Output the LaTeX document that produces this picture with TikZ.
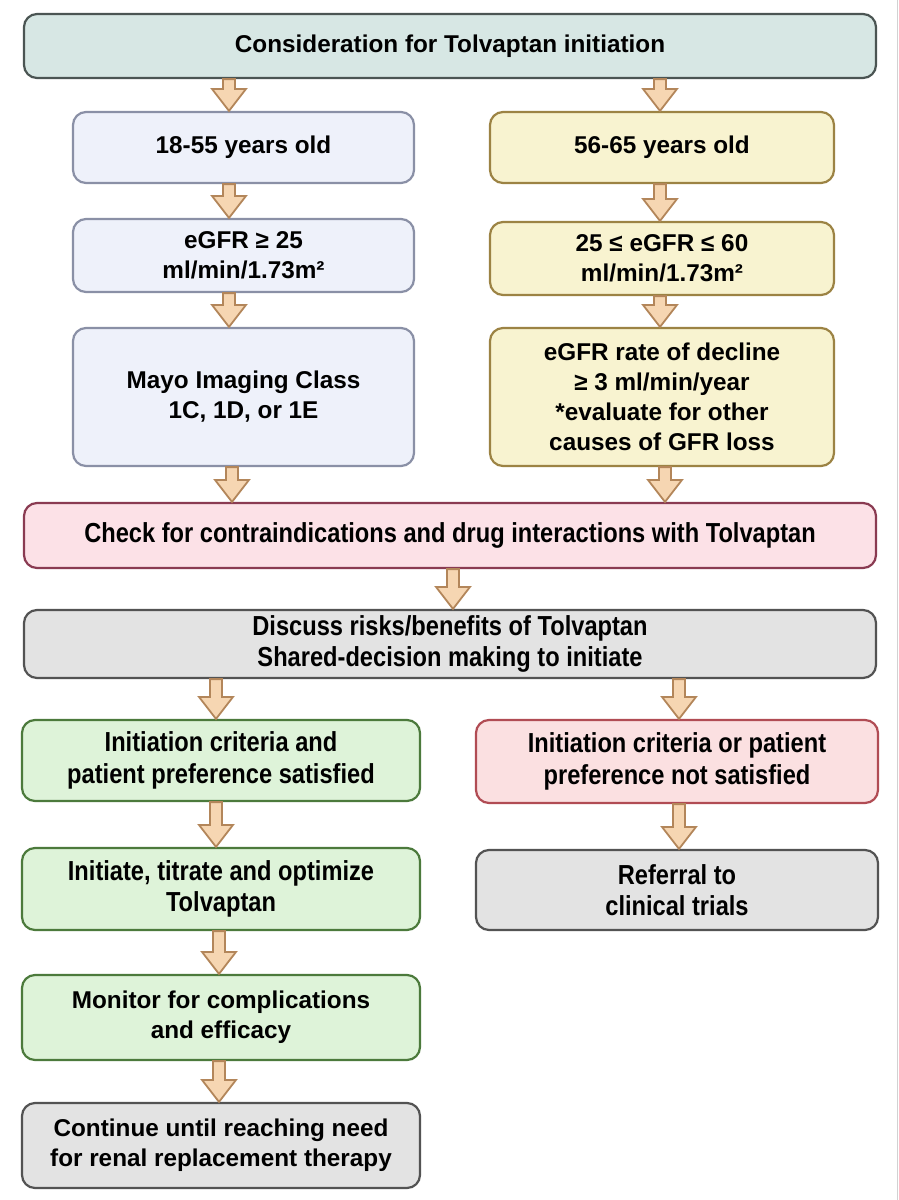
\documentclass[tikz,border=0pt]{standalone}
\usepackage{fontspec}
\setmainfont{Liberation Sans}
\newfontfamily\narrowsans[FakeStretch=0.86]{Liberation Sans}
\usetikzlibrary{calc}
\definecolor{topfill}{HTML}{D7E7E4}
\definecolor{topline}{HTML}{4B5553}
\definecolor{bluefill}{HTML}{EEF1FA}
\definecolor{blueline}{HTML}{8A90A6}
\definecolor{yelfill}{HTML}{F8F3D0}
\definecolor{yelline}{HTML}{9C8344}
\definecolor{pinkfill}{HTML}{FCE1E7}
\definecolor{pinkline}{HTML}{8A3B52}
\definecolor{grayfill}{HTML}{E3E3E3}
\definecolor{grayline}{HTML}{535353}
\definecolor{greenfill}{HTML}{DEF3D9}
\definecolor{greenline}{HTML}{4C7A3C}
\definecolor{redfill}{HTML}{FBE0E1}
\definecolor{redline}{HTML}{B14C54}
\definecolor{arrfill}{HTML}{F6D6B2}
\definecolor{arrline}{HTML}{B3865A}
\tikzset{
  box/.style={draw, rounded corners=13pt, line width=2.2pt, align=center, inner sep=0pt,
    font=\bfseries\fontsize{24.3}{30}\selectfont},
  narrow/.style={font=\narrowsans\bfseries\fontsize{27.5}{31.5}\selectfont},
  tealbox/.style={box, fill=topfill, draw=topline},
  bluebox/.style={box, fill=bluefill, draw=blueline},
  yelbox/.style={box, fill=yelfill, draw=yelline},
  pinkbox/.style={box, fill=pinkfill, draw=pinkline},
  graybox/.style={box, fill=grayfill, draw=grayline},
  greenbox/.style={box, fill=greenfill, draw=greenline},
  redbox/.style={box, fill=redfill, draw=redline},
  fatarrow/.style={fill=arrfill, draw=arrline, line width=1.8pt, line join=miter}
}
% block arrow from #1 down to #2
\newcommand{\blockarrow}[2]{%
  \filldraw[fatarrow] let \p1=(#1), \p2=(#2) in
    (\x1-6pt,\y1) -- (\x1-6pt,\y2+22pt) -- (\x1-17pt,\y2+22pt) -- (\x1,\y2)
    -- (\x1+17pt,\y2+22pt) -- (\x1+6pt,\y2+22pt) -- (\x1+6pt,\y1) -- cycle;}
\begin{document}
\begin{tikzpicture}[x=1pt,y=-1pt]
\useasboundingbox (0,0) rectangle (899,1200);
\fill[white] (0,0) rectangle (899,1200);
\draw[gray!35, line width=1pt] (897,0) -- (897,1200);
\node[tealbox, minimum width=852, minimum height=64] (b0) at (450,46) {Consideration for Tolvaptan initiation};
\node[bluebox, minimum width=341, minimum height=71] (l1) at (243.5,147.5) {18-55 years old};
\node[yelbox, minimum width=344, minimum height=71] (r1) at (662,147.5) {56-65 years old};
\node[bluebox, minimum width=341, minimum height=73] (l2) at (243.5,255.5) {eGFR ≥ 25\\ml/min/1.73m²};
\node[yelbox, minimum width=344, minimum height=73] (r2) at (662,258.5) {25 ≤ eGFR ≤ 60\\ ml/min/1.73m²};
\node[bluebox, minimum width=341, minimum height=138] (l3) at (243.5,397) {Mayo Imaging Class\\1C, 1D, or 1E};
\node[yelbox, minimum width=344, minimum height=138] (r3) at (662,397) {eGFR rate of decline\\≥ 3 ml/min/year\\ *evaluate for other\\causes of GFR loss};
\node[pinkbox, narrow, minimum width=852, minimum height=65] (c0) at (450,535.5) {Check for contraindications and drug interactions with Tolvaptan};
\node[graybox, narrow, minimum width=852, minimum height=68] (d0) at (450,644) {Discuss risks/benefits of Tolvaptan\\Shared-decision making to initiate};
\node[greenbox, narrow, minimum width=398, minimum height=81] (g1) at (221,760.5) {Initiation criteria and\\patient preference satisfied};
\node[redbox, narrow, minimum width=402, minimum height=83] (p1) at (677,761.5) {Initiation criteria or patient\\preference not satisfied};
\node[greenbox, narrow, minimum width=398, minimum height=82] (g2) at (221,889) {Initiate, titrate and optimize\\Tolvaptan};
\node[graybox, narrow, minimum width=402, minimum height=80] (p2) at (677,890) {Referral to\\clinical trials};
\node[greenbox, minimum width=398, minimum height=85] (g3) at (221,1017.5) {Monitor for complications\\and efficacy};
\node[graybox, minimum width=398, minimum height=85] (g4) at (221,1145.5) {Continue until reaching need\\for renal replacement therapy};
\coordinate (xl) at (229,0);
\coordinate (xr) at (660,0);
\coordinate (xm) at (453,0);
\coordinate (xg) at (216,0);
\coordinate (xp) at (679,0);
\blockarrow{b0.south -| xl}{l1.north -| xl}
\blockarrow{l1.south -| xl}{l2.north -| xl}
\blockarrow{l2.south -| xl}{l3.north -| xl}
\blockarrow{b0.south -| xr}{r1.north -| xr}
\blockarrow{r1.south -| xr}{r2.north -| xr}
\blockarrow{r2.south -| xr}{r3.north -| xr}
\blockarrow{l3.south -| 232,0}{c0.north -| 232,0}
\blockarrow{r3.south -| 665,0}{c0.north -| 665,0}
\blockarrow{c0.south -| xm}{d0.north -| xm}
\blockarrow{d0.south -| xg}{g1.north -| xg}
\blockarrow{d0.south -| xp}{p1.north -| xp}
\blockarrow{g1.south -| xg}{g2.north -| xg}
\blockarrow{p1.south -| xp}{p2.north -| xp}
\blockarrow{g2.south -| 219,0}{g3.north -| 219,0}
\blockarrow{g3.south -| 219,0}{g4.north -| 219,0}
\end{tikzpicture}
\end{document}
